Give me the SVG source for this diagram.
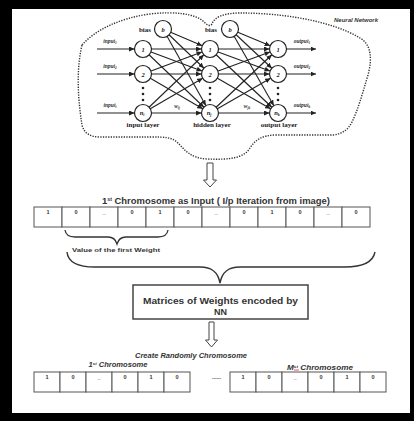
<svg xmlns="http://www.w3.org/2000/svg" width="414" height="421" viewBox="0 0 414 421">
<style>
.nn{stroke:#222;stroke-width:1.1;fill:none}
.node{fill:#fff;stroke:#222;stroke-width:1.2}
.nl{font-family:"Liberation Serif",serif;font-style:italic;font-weight:bold;font-size:6.5px;fill:#222;text-anchor:middle}
.lay{font-family:"Liberation Serif",serif;font-weight:bold;font-size:7px;fill:#222;text-anchor:middle}
.io{font-family:"Liberation Serif",serif;font-style:italic;font-weight:bold;font-size:5.5px;fill:#333;text-anchor:middle}
.cell{fill:#fff;stroke:#555;stroke-width:1}
.cv{font-family:"Liberation Sans",sans-serif;font-weight:bold;font-size:5.5px;fill:#333;text-anchor:middle}
.hd{font-family:"Liberation Sans",sans-serif;font-weight:bold;fill:#333;text-anchor:middle}
.it{font-family:"Liberation Sans",sans-serif;font-weight:bold;font-style:italic;fill:#333;text-anchor:middle}
.hollow{fill:#fff;stroke:#444;stroke-width:1}
</style>
<defs>
<marker id="ah" markerUnits="userSpaceOnUse" markerWidth="6" markerHeight="5" refX="14" refY="2.5" orient="auto"><path d="M0,0 L5.5,2.5 L0,5 Z" fill="#222"/></marker>
<marker id="ae" markerUnits="userSpaceOnUse" markerWidth="6" markerHeight="5" refX="5.5" refY="2.5" orient="auto"><path d="M0,0 L5.5,2.5 L0,5 Z" fill="#222"/></marker>
</defs>
<rect x="0" y="0" width="414" height="421" fill="#000"/>
<rect x="12" y="9" width="398" height="404" fill="#fff"/>

<g id="neural-network-cloud">
<path d="M82,45 C95,30 120,18 150,14 C175,11 195,14 203,21 C207,25 210,27 212,24 C214,18 222,13 240,13 C280,13 330,20 360,38 C372,45 372,60 368,75 C362,95 358,110 352,122 C348,130 342,134 333,135 L277,135 C262,135 255,140 250,148 C244,158 230,160 207,159 C190,158 185,150 178,143 C172,137 165,137 150,137 L100,137 C90,137 84,133 82,125 C78,100 76,70 82,45 Z" fill="none" stroke="#333" stroke-width="1.4" stroke-dasharray="1.3 1.3"/>
<text x="356" y="22" class="it" font-size="6" font-weight="normal">Neural Network</text>
</g>

<g id="connectors">
<line x1="97" y1="49" x2="143" y2="49" class="nn" marker-end="url(#ah)"/>
<line x1="97" y1="74" x2="143" y2="74" class="nn" marker-end="url(#ah)"/>
<line x1="97" y1="113" x2="143" y2="113" class="nn" marker-end="url(#ah)"/>
<line x1="143" y1="49" x2="210" y2="49" class="nn" marker-end="url(#ah)"/>
<line x1="143" y1="49" x2="210" y2="74" class="nn" marker-end="url(#ah)"/>
<line x1="143" y1="49" x2="210" y2="113" class="nn" marker-end="url(#ah)"/>
<line x1="143" y1="74" x2="210" y2="49" class="nn" marker-end="url(#ah)"/>
<line x1="143" y1="74" x2="210" y2="74" class="nn" marker-end="url(#ah)"/>
<line x1="143" y1="74" x2="210" y2="113" class="nn" marker-end="url(#ah)"/>
<line x1="143" y1="113" x2="210" y2="49" class="nn" marker-end="url(#ah)"/>
<line x1="143" y1="113" x2="210" y2="74" class="nn" marker-end="url(#ah)"/>
<line x1="143" y1="113" x2="210" y2="113" class="nn" marker-end="url(#ah)"/>
<line x1="163" y1="29" x2="210" y2="49" class="nn" marker-end="url(#ah)"/>
<line x1="163" y1="29" x2="210" y2="74" class="nn" marker-end="url(#ah)"/>
<line x1="163" y1="29" x2="210" y2="113" class="nn" marker-end="url(#ah)"/>
<line x1="210" y1="49" x2="278" y2="49" class="nn" marker-end="url(#ah)"/>
<line x1="210" y1="49" x2="278" y2="74" class="nn" marker-end="url(#ah)"/>
<line x1="210" y1="49" x2="278" y2="113" class="nn" marker-end="url(#ah)"/>
<line x1="210" y1="74" x2="278" y2="49" class="nn" marker-end="url(#ah)"/>
<line x1="210" y1="74" x2="278" y2="74" class="nn" marker-end="url(#ah)"/>
<line x1="210" y1="74" x2="278" y2="113" class="nn" marker-end="url(#ah)"/>
<line x1="210" y1="113" x2="278" y2="49" class="nn" marker-end="url(#ah)"/>
<line x1="210" y1="113" x2="278" y2="74" class="nn" marker-end="url(#ah)"/>
<line x1="210" y1="113" x2="278" y2="113" class="nn" marker-end="url(#ah)"/>
<line x1="230" y1="29" x2="278" y2="49" class="nn" marker-end="url(#ah)"/>
<line x1="230" y1="29" x2="278" y2="74" class="nn" marker-end="url(#ah)"/>
<line x1="230" y1="29" x2="278" y2="113" class="nn" marker-end="url(#ah)"/>
<line x1="278" y1="49" x2="316" y2="49" class="nn" marker-end="url(#ae)"/>
<line x1="278" y1="74" x2="316" y2="74" class="nn" marker-end="url(#ae)"/>
<line x1="278" y1="113" x2="316" y2="113" class="nn" marker-end="url(#ae)"/>
<path class="hollow" d="M207,163 L213,163 L213,180 L216.5,180 L210,187 L203.5,180 L207,180 Z"/>
<path class="hollow" d="M209,322 L214,322 L214,340 L217.5,340 L211.5,347 L205.5,340 L209,340 Z"/>
<path d="M65,230 Q66,237 75,237 L108,237 Q115,237 117,244 Q119,237 126,237 L158,237 Q167,237 168,230" fill="none" stroke="#333" stroke-width="1.3"/>
<path d="M67,252 C68,262 78,267 95,267 L200,267 C212,267 218,272 220,283 C222,272 228,267 240,267 L345,267 C362,267 373,262 375,252" fill="none" stroke="#333" stroke-width="1.4"/>
</g>

<g id="nn-labels">
<text x="110" y="43" class="io">input<tspan font-size="3.5" dy="1">1</tspan></text>
<text x="110" y="68" class="io">input<tspan font-size="3.5" dy="1">2</tspan></text>
<text x="110" y="107" class="io">input<tspan font-size="3.5" dy="1">i</tspan></text>
<text x="302" y="43" class="io">output<tspan font-size="3.5" dy="1">1</tspan></text>
<text x="302" y="68" class="io">output<tspan font-size="3.5" dy="1">2</tspan></text>
<text x="302" y="107" class="io">output<tspan font-size="3.5" dy="1">k</tspan></text>
<text x="177" y="108" class="io">w<tspan font-size="3.5" dy="1">ij</tspan></text>
<text x="247" y="108" class="io">w<tspan font-size="3.5" dy="1">jk</tspan></text>
<text x="145" y="32" class="lay" font-weight="normal">bias</text>
<text x="211" y="32" class="lay" font-weight="normal">bias</text>
<text x="143" y="127" class="lay">input layer</text>
<text x="212" y="127" class="lay">hidden layer</text>
<text x="279" y="127" class="lay">output layer</text>
<g fill="#222"><circle cx="143" cy="88" r="1.3"/><circle cx="143" cy="94" r="1.3"/><circle cx="143" cy="100" r="1.3"/>
<circle cx="210" cy="88" r="1.3"/><circle cx="210" cy="94" r="1.3"/><circle cx="210" cy="100" r="1.3"/>
<circle cx="278" cy="88" r="1.3"/><circle cx="278" cy="94" r="1.3"/><circle cx="278" cy="100" r="1.3"/></g>
</g>

<g id="input-layer">
<circle cx="143" cy="49" r="8.5" class="node"/><text x="143" y="51.5" class="nl">1</text>
<circle cx="143" cy="74" r="8.5" class="node"/><text x="143" y="76.5" class="nl">2</text>
<circle cx="143" cy="113" r="8.5" class="node"/><text x="142" y="115" class="nl">n<tspan font-size="4" dy="1">i</tspan></text>
<circle cx="163" cy="29" r="8.5" class="node"/><text x="163" y="31.5" class="nl">b</text>
</g>
<g id="hidden-layer">
<circle cx="210" cy="49" r="8.5" class="node"/><text x="210" y="51.5" class="nl">1</text>
<circle cx="210" cy="74" r="8.5" class="node"/><text x="210" y="76.5" class="nl">2</text>
<circle cx="210" cy="113" r="8.5" class="node"/><text x="209" y="115" class="nl">n<tspan font-size="4" dy="1">j</tspan></text>
<circle cx="230" cy="29" r="8.5" class="node"/><text x="230" y="31.5" class="nl">b</text>
</g>
<g id="output-layer">
<circle cx="278" cy="49" r="8.5" class="node"/><text x="278" y="51.5" class="nl">1</text>
<circle cx="278" cy="74" r="8.5" class="node"/><text x="278" y="76.5" class="nl">2</text>
<circle cx="278" cy="113" r="8.5" class="node"/><text x="277" y="115" class="nl">n<tspan font-size="4" dy="1">k</tspan></text>
</g>

<g id="first-chromosome">
<text x="216" y="204" class="hd" font-size="9" textLength="228" lengthAdjust="spacingAndGlyphs">1<tspan font-size="5" dy="-3.5">st</tspan><tspan dy="3.5"> Chromosome as Input ( I/p Iteration from image)</tspan></text>
<g>
<rect x="34" y="207" width="28" height="20" class="cell"/><rect x="62" y="207" width="28" height="20" class="cell"/>
<rect x="90" y="207" width="28" height="20" class="cell"/><rect x="118" y="207" width="28" height="20" class="cell"/>
<rect x="146" y="207" width="28" height="20" class="cell"/><rect x="174" y="207" width="28" height="20" class="cell"/>
<rect x="202" y="207" width="28" height="20" class="cell"/><rect x="230" y="207" width="28" height="20" class="cell"/>
<rect x="258" y="207" width="28" height="20" class="cell"/><rect x="286" y="207" width="28" height="20" class="cell"/>
<rect x="314" y="207" width="28" height="20" class="cell"/><rect x="342" y="207" width="28" height="20" class="cell"/>
</g>
<text x="48" y="214" class="cv">1</text><text x="76" y="214" class="cv">0</text><text x="104" y="214" class="cv">_</text>
<text x="132" y="214" class="cv">0</text><text x="160" y="214" class="cv">1</text><text x="188" y="214" class="cv">0</text>
<text x="216" y="214" class="cv">_</text><text x="244" y="214" class="cv">0</text><text x="272" y="214" class="cv">1</text>
<text x="300" y="214" class="cv">0</text><text x="328" y="214" class="cv">_</text><text x="356" y="214" class="cv">0</text>
<text x="116" y="252" class="hd" font-size="5.5" textLength="88" lengthAdjust="spacingAndGlyphs">Value of the first Weight</text>
</g>

<g id="matrices-box">
<rect x="133" y="285" width="175" height="34" fill="#fff" stroke="#444" stroke-width="1.5"/>
<text x="220.5" y="304" class="hd" font-size="9" textLength="155" lengthAdjust="spacingAndGlyphs">Matrices of Weights encoded by</text>
<text x="220.5" y="315" class="hd" font-size="9">NN</text>
</g>

<g id="random-chromosomes">
<text x="191" y="358" class="it" font-size="7" textLength="112" lengthAdjust="spacingAndGlyphs">Create Randomly Chromosome</text>
<text x="118" y="367" class="it" font-size="7" textLength="59" lengthAdjust="spacingAndGlyphs">1<tspan font-size="4" dy="-2.5">st</tspan><tspan dy="2.5">  Chromosome</tspan></text>
<text x="320" y="370" class="it" font-size="7" textLength="66" lengthAdjust="spacingAndGlyphs">M<tspan font-size="4" dy="-2.5">st</tspan><tspan dy="2.5">  Chromosome</tspan></text>
<line x1="294" y1="370" x2="299" y2="370" stroke="#d33" stroke-width="0.8"/>
<g>
<rect x="34" y="372" width="26" height="20" class="cell"/><rect x="60" y="372" width="26" height="20" class="cell"/>
<rect x="86" y="372" width="26" height="20" class="cell"/><rect x="112" y="372" width="26" height="20" class="cell"/>
<rect x="138" y="372" width="26" height="20" class="cell"/><rect x="164" y="372" width="26" height="20" class="cell"/>
<rect x="230" y="372" width="26" height="20" class="cell"/><rect x="256" y="372" width="26" height="20" class="cell"/>
<rect x="282" y="372" width="26" height="20" class="cell"/><rect x="308" y="372" width="26" height="20" class="cell"/>
<rect x="334" y="372" width="26" height="20" class="cell"/><rect x="360" y="372" width="26" height="20" class="cell"/>
</g>
<text x="47" y="379" class="cv">1</text><text x="73" y="379" class="cv">0</text><text x="99" y="379" class="cv">_</text>
<text x="125" y="379" class="cv">0</text><text x="151" y="379" class="cv">1</text><text x="177" y="379" class="cv">0</text>
<text x="216.5" y="379" class="cv">......</text>
<text x="243" y="379" class="cv">1</text><text x="269" y="379" class="cv">0</text><text x="295" y="379" class="cv">_</text>
<text x="321" y="379" class="cv">0</text><text x="347" y="379" class="cv">1</text><text x="373" y="379" class="cv">0</text>
</g>
</svg>
